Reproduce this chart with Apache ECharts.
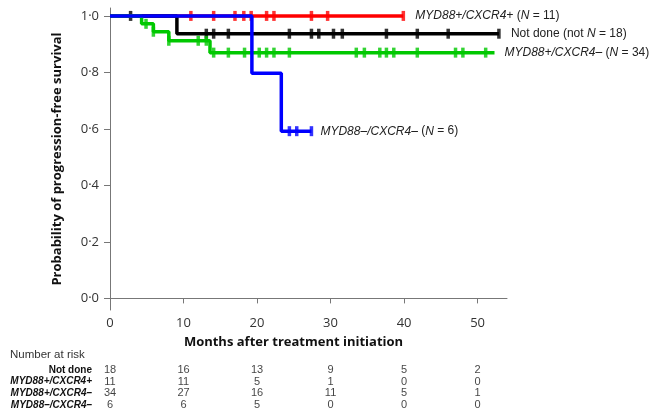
<!DOCTYPE html>
<html>
<head>
<meta charset="utf-8">
<script src="https://cdn.jsdelivr.net/npm/echarts@6/dist/echarts.min.js"></script>
<style>html,body{margin:0;padding:0;background:#fff;}#c{width:653px;height:411px;}</style>
</head>
<body>
<div id="c"></div>
<script>
// ---- data (months, survival probability) ----
var xTicks = [0, 10, 20, 30, 40, 50];
var yTicks = [0, 0.2, 0.4, 0.6, 0.8, 1.0];

var redTimes = [0, 39.9];
var redSurv = [1, 1];
var redCens = [11.0, 14.1, 17.0, 18.2, 19.2, 21.3, 22.3, 27.4, 29.6, 39.9];

var blackTimes = [0, 9.1, 52.9];
var blackSurv = [1, 0.937, 0.937];
var blackCens = [2.8, 13.1, 14.1, 16.1, 24.4, 27.4, 28.4, 30.4, 31.6, 37.6, 41.8, 46.0, 52.9];

var greenTimes = [0, 4.3, 5.9, 8.0, 13.6, 52.3];
var greenSurv = [1, 0.972, 0.944, 0.912, 0.870, 0.870];
var greenCens = [4.9, 5.9, 8.0, 12.0, 13.1, 14.1, 16.1, 18.3, 20.3, 21.3, 22.3, 24.4, 33.5, 34.6, 36.7, 37.6, 38.6, 41.8, 47.0, 48.0, 51.1];

var blueTimes = [0, 19.3, 23.3, 27.4];
var blueSurv = [1, 0.797, 0.592, 0.592];
var blueCens = [24.4, 25.4, 27.4];

var riskRows = ['Not done', 'MYD88+/CXCR4+', 'MYD88+/CXCR4\u2013', 'MYD88\u2013/CXCR4\u2013'];
var riskX = [0, 10, 20, 30, 40, 50];
var riskNotDone = [18, 16, 13, 9, 5, 2];
var riskPosPos = [11, 11, 5, 1, 0, 0];
var riskPosNeg = [34, 27, 16, 11, 5, 1];
var riskNegNeg = [6, 6, 5, 0, 0, 0];

var labels = {
  red: '{i|MYD88+/CXCR4+} ({i|N} = 11)',
  black: 'Not done (not {i|N} = 18)',
  green: '{i|MYD88+/CXCR4\u2013} ({i|N} = 34)',
  blue: '{i|MYD88\u2013/CXCR4\u2013} ({i|N} = 6)'
};

// ---- helpers ----
function pairs(t, s) { return t.map(function (v, i) { return [v, s[i]]; }); }
function survAt(t, times, surv) {
  var v = surv[0];
  for (var i = 0; i < times.length; i++) { if (times[i] <= t) v = surv[i]; }
  return v;
}
function cens(c, times, surv) { return c.map(function (t) { return [t, survAt(t, times, surv)]; }); }

var FONT_AX = '"Open Sans", sans-serif';
var FONT_AR = '"Liberation Sans", Arial, sans-serif';

function kmLine(name, color, t, s, label, dist) {
  return {
    name: name, type: 'line', step: 'end', showSymbol: false,
    data: pairs(t, s), xAxisIndex: 0, yAxisIndex: 0,
    lineStyle: { color: color, width: 3.5 }, itemStyle: { color: color },
    endLabel: {
      show: true, distance: dist, formatter: function () { return label; },
      color: '#222', fontSize: 12, fontFamily: FONT_AR,
      rich: { i: { fontStyle: 'italic', fontSize: 12, fontFamily: FONT_AR, color: '#222' } }
    },
    silent: true
  };
}
function censSeries(color, data) {
  return {
    type: 'scatter', data: data, xAxisIndex: 0, yAxisIndex: 0,
    symbol: 'rect', symbolSize: [3.5, 10], itemStyle: { color: color }, silent: true
  };
}
var riskData = [];
[riskNotDone, riskPosPos, riskPosNeg, riskNegNeg].forEach(function (row, r) {
  row.forEach(function (v, c) { riskData.push([riskX[c], riskRows[r], v]); });
});

var chart = echarts.init(document.getElementById('c'), null, { renderer: 'canvas' });
chart.setOption({
  animation: false,
  backgroundColor: '#fff',
  title: {
    text: 'Number at risk', left: 5, top: 344,
    textStyle: { fontSize: 11.5, fontWeight: 'normal', color: '#333', fontFamily: FONT_AR }
  },
  grid: [
    { left: 110, right: 146, top: 8, bottom: 101 },
    { left: 110, right: 146, top: 364, height: 48 }
  ],
  xAxis: [
    {
      type: 'value', gridIndex: 0, min: 0, max: 54,
      name: 'Months after treatment initiation', nameLocation: 'middle', nameGap: 26,
      nameTextStyle: { fontSize: 13, fontWeight: 'bold', color: '#111', fontFamily: FONT_AX, padding: [0, 30, 0, 0] },
      axisLine: { lineStyle: { color: '#777', width: 1 } },
      axisTick: { show: true, length: 5, customValues: xTicks, lineStyle: { color: '#777' } },
      axisLabel: { customValues: xTicks, color: '#333', fontSize: 13, fontFamily: FONT_AX, margin: 7 },
      splitLine: { show: false }
    },
    {
      type: 'value', gridIndex: 1, min: 0, max: 54, show: false
    }
  ],
  yAxis: [
    {
      type: 'value', gridIndex: 0, min: -0.041, max: 1.028,
      name: 'Probability of progression-free survival', nameLocation: 'middle', nameGap: 46,
      nameTextStyle: { fontSize: 13, fontWeight: 'bold', color: '#111', fontFamily: FONT_AX },
      axisLine: { show: true, lineStyle: { color: '#777', width: 1 } },
      axisTick: { show: true, length: 6, customValues: yTicks, lineStyle: { color: '#777' } },
      axisLabel: {
        customValues: yTicks, color: '#333', fontSize: 13, fontFamily: FONT_AX, margin: 11,
        formatter: function (v) { return v.toFixed(1).replace('.', '\u00b7'); }
      },
      splitLine: { show: false }
    },
    {
      type: 'category', gridIndex: 1, data: riskRows, inverse: true,
      axisLine: { show: false }, axisTick: { show: false },
      axisLabel: {
        interval: 0, margin: 18, fontSize: 10, fontWeight: 'bold', color: '#111', fontFamily: FONT_AR,
        formatter: function (v) { return v === 'Not done' ? v : '{i|' + v + '}'; },
        rich: { i: { fontStyle: 'italic', fontWeight: 'bold', fontSize: 10, color: '#111', fontFamily: FONT_AR } }
      },
      splitLine: { show: false }
    }
  ],
  series: [
    kmLine('red', '#ff0000', redTimes, redSurv, labels.red, 12),
    kmLine('black', '#000000', blackTimes, blackSurv, labels.black, 12),
    kmLine('green', '#00c800', greenTimes, greenSurv, labels.green, 10),
    kmLine('blue', '#0000ff', blueTimes, blueSurv, labels.blue, 9),
    censSeries('#ff0000', cens(redCens, redTimes, redSurv)),
    censSeries('#000000', cens(blackCens, blackTimes, blackSurv)),
    censSeries('#00c800', cens(greenCens, greenTimes, greenSurv)),
    censSeries('#0000ff', cens(blueCens, blueTimes, blueSurv)),
    {
      type: 'scatter', xAxisIndex: 1, yAxisIndex: 1, data: riskData,
      symbolSize: 0, silent: true,
      label: {
        show: true, position: 'inside', color: '#111', fontSize: 11, fontFamily: FONT_AR,
        formatter: function (p) { return String(p.value[2]); }
      }
    }
  ]
});
</script>
</body>
</html>
